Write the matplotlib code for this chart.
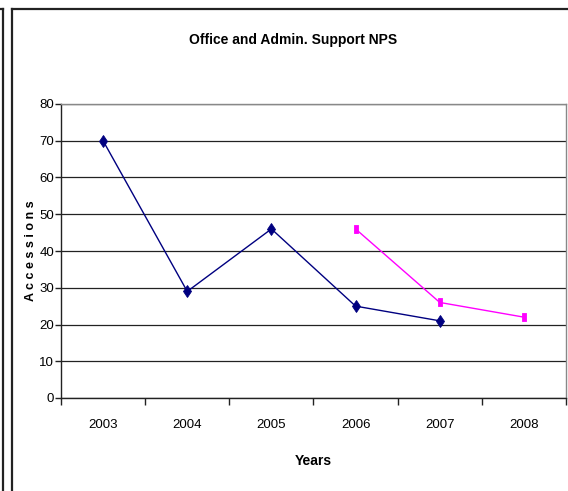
import matplotlib
matplotlib.use("Agg")
import matplotlib.pyplot as plt
from matplotlib import font_manager
from matplotlib.lines import Line2D
from matplotlib.path import Path
import numpy as np

# Data
years = ["2003", "2004", "2005", "2006", "2007", "2008"]
series_a = [70, 29, 46, 25, 21, None]
series_b = [None, None, None, 46, 26, 22]
y_ticks = [0, 10, 20, 30, 40, 50, 60, 70, 80]

title = "Office and Admin. Support NPS"
x_title = "Years"
y_title = "A c c e s s i o n s"

available = {f.name for f in font_manager.fontManager.ttflist}
narrow = "Liberation Sans Narrow" if "Liberation Sans Narrow" in available else "Liberation Sans"
plt.rcParams["font.family"] = [narrow, "DejaVu Sans"]

W, H = 568, 491
fig = plt.figure(figsize=(W / 100, H / 100), dpi=100)

# Outer frame pieces (neighbouring panel edge and chart box)
frame_color = "#222222"
fig.add_artist(Line2D([0, 3.5 / W], [1 - 8.5 / H, 1 - 8.5 / H], transform=fig.transFigure, color=frame_color, lw=1.6))
fig.add_artist(Line2D([3.5 / W, 3.5 / W], [0, 1 - 8.5 / H], transform=fig.transFigure, color=frame_color, lw=1.6))
fig.add_artist(Line2D([12 / W, 12 / W], [0, 1 - 8.5 / H], transform=fig.transFigure, color=frame_color, lw=1.6))
fig.add_artist(Line2D([12 / W, 1], [1 - 8.5 / H, 1 - 8.5 / H], transform=fig.transFigure, color=frame_color, lw=1.6))

left, right, top, bottom = 61, 566, 104, 398
ax = fig.add_axes([left / W, 1 - bottom / H, (right - left) / W, (bottom - top) / H])

x = np.arange(len(years))
a = np.array([np.nan if v is None else v for v in series_a], dtype=float)
b = np.array([np.nan if v is None else v for v in series_b], dtype=float)

rect_marker = Path([(-0.55, -1), (0.55, -1), (0.55, 1), (-0.55, 1), (-0.55, -1)], closed=True)

ax.plot(x, a, color="#000080", lw=1.0, marker="d", markersize=6, markeredgewidth=0.6, zorder=3)
ax.plot(x, b, color="#FF00FF", lw=1.0, marker=rect_marker, markersize=5.5, markeredgewidth=0.6, zorder=3)

ax.set_xlim(-0.5, len(years) - 0.5)
ax.set_ylim(0, 80)
ax.set_yticks(y_ticks)
ax.set_yticklabels([str(v) for v in y_ticks], fontsize=9.5)
ax.yaxis.grid(True, color="#222222", lw=0.9)
ax.set_axisbelow(True)

ax.set_xticks(x)
ax.set_xticklabels(years, fontsize=9.5)
ax.tick_params(axis="x", length=0, pad=15)
ax.set_xticks(np.arange(-0.5, len(years)), minor=True)
ax.tick_params(axis="x", which="minor", length=5, width=1, color="#222222", direction="out")
ax.tick_params(axis="y", length=4, width=1, color="#222222", pad=1)

for side in ("left", "bottom"):
    ax.spines[side].set_color("#222222")
    ax.spines[side].set_linewidth(1.0)
for side in ("top", "right"):
    ax.spines[side].set_color("#888888")
    ax.spines[side].set_linewidth(1.0)

fig.text(293 / W, 1 - 40 / H, title, ha="center", va="center", fontsize=10, fontweight="bold")
fig.text(313 / W, 1 - 461 / H, x_title, ha="center", va="center", fontsize=10, fontweight="bold")
fig.text(31 / W, 1 - 251 / H, y_title, ha="center", va="center", rotation=90, fontsize=9, fontweight="bold")

fig.savefig("out.png", dpi=100)
